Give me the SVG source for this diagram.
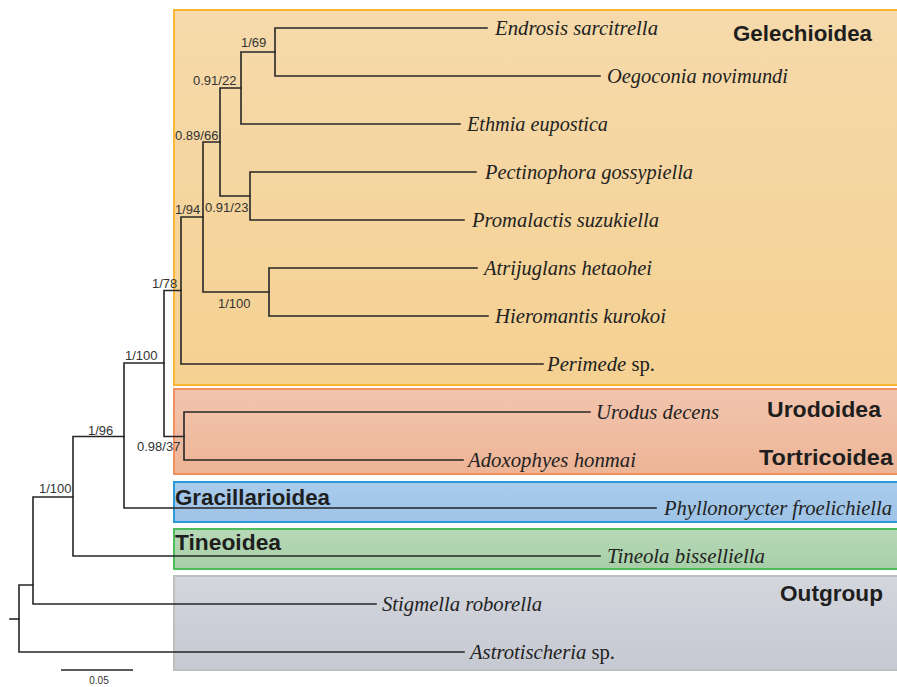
<svg xmlns="http://www.w3.org/2000/svg" width="897" height="687" viewBox="0 0 897 687">
<defs>
<linearGradient id="gGel" x1="0" y1="0" x2="0" y2="1"><stop offset="0" stop-color="#F6DAAB"/><stop offset="1" stop-color="#F5D192"/></linearGradient>
<linearGradient id="gUro" x1="0" y1="0" x2="0" y2="1"><stop offset="0" stop-color="#F2C5AE"/><stop offset="1" stop-color="#EDB496"/></linearGradient>
<linearGradient id="gGra" x1="0" y1="0" x2="0" y2="1"><stop offset="0" stop-color="#AACCEC"/><stop offset="1" stop-color="#9DC3E6"/></linearGradient>
<linearGradient id="gTin" x1="0" y1="0" x2="0" y2="1"><stop offset="0" stop-color="#B7D8B7"/><stop offset="1" stop-color="#A7CFA7"/></linearGradient>
<linearGradient id="gOut" x1="0" y1="0" x2="0" y2="1"><stop offset="0" stop-color="#D3D6DD"/><stop offset="1" stop-color="#C6C9D1"/></linearGradient>
</defs>
<style>
.tip{font-family:"Liberation Serif","Times New Roman",serif;font-style:italic;font-size:20px;fill:#222}
.up{font-style:normal}
.grp{font-family:"Liberation Sans",Arial,sans-serif;font-weight:bold;font-size:22px;fill:#1e1e1e}
.bs{font-family:"Liberation Sans",Arial,sans-serif;font-size:13px;fill:#333}
.br{fill:none;stroke:#262626;stroke-width:1.6;stroke-linecap:square}
.box{stroke-width:2}
</style>
<rect width="897" height="687" fill="#ffffff"/>

<g id="clade-gelechioidea">
<rect class="box" x="174" y="10" width="740" height="375" fill="url(#gGel)" stroke="#FBB633"/>
<text class="grp" x="733" y="41" textLength="139" lengthAdjust="spacingAndGlyphs">Gelechioidea</text>
</g>
<g id="clade-urodoidea-tortricoidea">
<rect class="box" x="174" y="389" width="740" height="85" fill="url(#gUro)" stroke="#F4905E"/>
<text class="grp" x="767" y="417" textLength="114" lengthAdjust="spacingAndGlyphs">Urodoidea</text>
<text class="grp" x="759" y="465" textLength="134" lengthAdjust="spacingAndGlyphs">Tortricoidea</text>
</g>
<g id="clade-gracillarioidea">
<rect class="box" x="174" y="482" width="740" height="40" fill="url(#gGra)" stroke="#2A9BDA"/>
<text class="grp" x="175" y="505" textLength="155" lengthAdjust="spacingAndGlyphs">Gracillarioidea</text>
</g>
<g id="clade-tineoidea">
<rect class="box" x="174" y="529" width="740" height="40" fill="url(#gTin)" stroke="#4CBB5C"/>
<text class="grp" x="175" y="550" textLength="106" lengthAdjust="spacingAndGlyphs">Tineoidea</text>
</g>
<g id="clade-outgroup">
<rect class="box" x="174" y="576" width="740" height="94" fill="url(#gOut)" stroke="#BEBEBE"/>
<text class="grp" x="780" y="601" textLength="103" lengthAdjust="spacingAndGlyphs">Outgroup</text>
</g>

<g id="connectors">
<path class="br" d="M487,28H275V76H600"/>
<path class="br" d="M275,52H241V124H460"/>
<path class="br" d="M241,88H220V196H250"/>
<path class="br" d="M476,172H250V220H464"/>
<path class="br" d="M220,142H203V292H269"/>
<path class="br" d="M477,268H269V316H488"/>
<path class="br" d="M203,217H181V364H543"/>
<path class="br" d="M181,290.5H164V436.5H184"/>
<path class="br" d="M590,412H184V460H463"/>
<path class="br" d="M164,363H124V508H656"/>
<path class="br" d="M124,436.5H73V556H600"/>
<path class="br" d="M73,497H33V604H376"/>
<path class="br" d="M33,585H19V652H464"/>
<path class="br" d="M10,619H19"/>
</g>

<g id="tip-endrosis"><text class="tip" x="495" y="35" textLength="163" lengthAdjust="spacingAndGlyphs">Endrosis sarcitrella</text></g>
<g id="tip-oegoconia"><text class="tip" x="607" y="83" textLength="181" lengthAdjust="spacingAndGlyphs">Oegoconia novimundi</text></g>
<g id="tip-ethmia"><text class="tip" x="467" y="131" textLength="141" lengthAdjust="spacingAndGlyphs">Ethmia eupostica</text></g>
<g id="tip-pectinophora"><text class="tip" x="485" y="179" textLength="208" lengthAdjust="spacingAndGlyphs">Pectinophora gossypiella</text></g>
<g id="tip-promalactis"><text class="tip" x="472" y="227" textLength="187" lengthAdjust="spacingAndGlyphs">Promalactis suzukiella</text></g>
<g id="tip-atrijuglans"><text class="tip" x="484" y="275" textLength="168" lengthAdjust="spacingAndGlyphs">Atrijuglans hetaohei</text></g>
<g id="tip-hieromantis"><text class="tip" x="495" y="323" textLength="171" lengthAdjust="spacingAndGlyphs">Hieromantis kurokoi</text></g>
<g id="tip-perimede"><text class="tip" x="547" y="371" textLength="108" lengthAdjust="spacingAndGlyphs">Perimede<tspan class="up"> sp.</tspan></text></g>
<g id="tip-urodus"><text class="tip" x="596" y="419" textLength="123" lengthAdjust="spacingAndGlyphs">Urodus decens</text></g>
<g id="tip-adoxophyes"><text class="tip" x="468" y="467" textLength="168" lengthAdjust="spacingAndGlyphs">Adoxophyes honmai</text></g>
<g id="tip-phyllonorycter"><text class="tip" x="664" y="515" textLength="228" lengthAdjust="spacingAndGlyphs">Phyllonorycter froelichiella</text></g>
<g id="tip-tineola"><text class="tip" x="607" y="563" textLength="158" lengthAdjust="spacingAndGlyphs">Tineola bisselliella</text></g>
<g id="tip-stigmella"><text class="tip" x="382" y="611" textLength="160" lengthAdjust="spacingAndGlyphs">Stigmella roborella</text></g>
<g id="tip-astrotischeria"><text class="tip" x="470" y="659" textLength="145" lengthAdjust="spacingAndGlyphs">Astrotischeria<tspan class="up"> sp.</tspan></text></g>

<g id="support-labels">
<text class="bs" x="241" y="47">1/69</text>
<text class="bs" x="193" y="85">0.91/22</text>
<text class="bs" x="175" y="140">0.89/66</text>
<text class="bs" x="175" y="214">1/94</text>
<text class="bs" x="205" y="212">0.91/23</text>
<text class="bs" x="218" y="308">1/100</text>
<text class="bs" x="152" y="288">1/78</text>
<text class="bs" x="125" y="360">1/100</text>
<text class="bs" x="88" y="435">1/96</text>
<text class="bs" x="137" y="451">0.98/37</text>
<text class="bs" x="39" y="493">1/100</text>
</g>

<g id="scale-bar">
<path d="M61,670H133" stroke="#262626" stroke-width="1.5"/>
<text x="99" y="684" text-anchor="middle" font-family="Liberation Sans, Arial, sans-serif" font-size="10" fill="#333">0.05</text>
</g>
</svg>
